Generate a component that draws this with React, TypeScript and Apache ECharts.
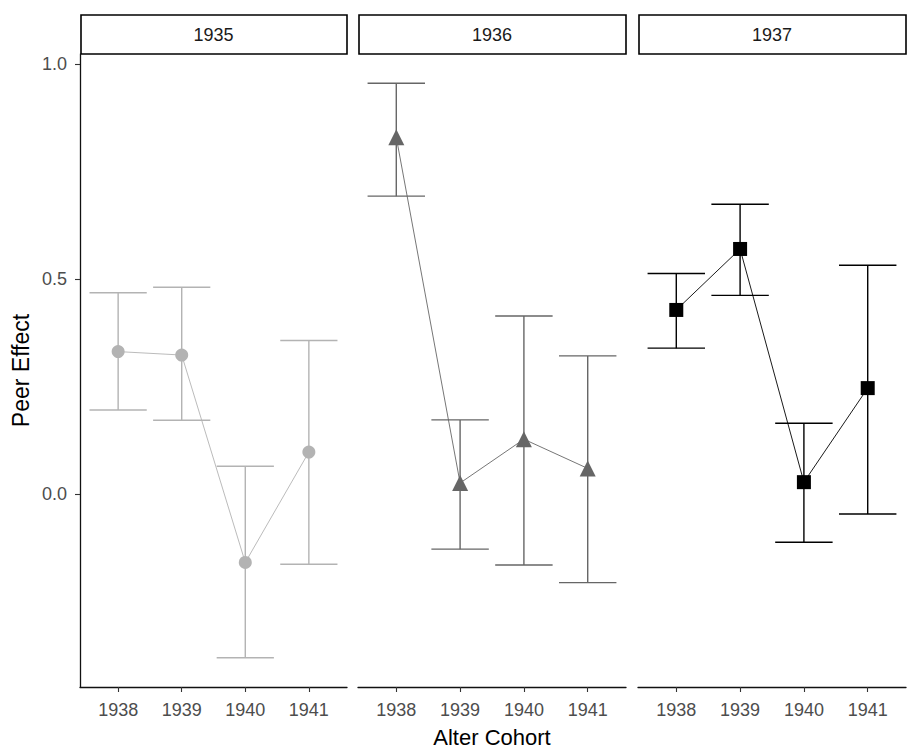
import React, { useEffect, useRef } from "react";
import * as echarts from "echarts";

// Facets (ego cohort) and x categories (alter cohort)
const egoCohorts = ["1935", "1936", "1937"];
const alterCohorts = ["1938", "1939", "1940", "1941"];

// Point estimates and confidence limits
const est1935 = [0.331, 0.323, -0.16, 0.097];
const low1935 = [0.195, 0.171, -0.382, -0.164];
const high1935 = [0.468, 0.481, 0.064, 0.357];

const est1936 = [0.83, 0.025, 0.127, 0.059];
const low1936 = [0.693, -0.129, -0.166, -0.207];
const high1936 = [0.956, 0.172, 0.414, 0.321];

const est1937 = [0.428, 0.57, 0.027, 0.246];
const low1937 = [0.339, 0.462, -0.113, -0.047];
const high1937 = [0.513, 0.674, 0.164, 0.532];

const yTicks = [0, 0.5, 1.0];
const yLimits = [-0.45, 1.024];
const xLimits = [0.4, 4.6];

const estimates = [est1935, est1936, est1937];
const lows = [low1935, low1936, low1937];
const highs = [high1935, high1936, high1937];

const colors = ["#b3b3b3", "#666666", "#000000"];
const symbols = ["circle", "triangle", "rect"];
const symbolSizes = [13, 16, 14];
const gridLefts = [80, 358, 638];
const gridWidths = [267, 268, 268];
const gridTop = 54;
const gridHeight = 633;

export default function App() {
  const ref = useRef<HTMLDivElement>(null);

  useEffect(() => {
    document.body.style.margin = "0";
    if (!ref.current) return;
    const chart = echarts.init(ref.current, null, { renderer: "svg" });
    const font = "Liberation Sans, Arial, sans-serif";
    const xIdx = alterCohorts.map((_, i) => i + 1);

    const grids = egoCohorts.map((_, i) => ({
      left: gridLefts[i],
      top: gridTop,
      width: gridWidths[i],
      height: gridHeight,
      containLabel: false,
      outerBoundsMode: "none",
    }));

    const xAxes = egoCohorts.map((_, i) => ({
      type: "value",
      gridIndex: i,
      min: xLimits[0],
      max: xLimits[1],
      name: i === 1 ? "Alter Cohort" : "",
      nameLocation: "middle",
      nameGap: 39,
      nameTextStyle: { fontFamily: font, fontSize: 22, color: "#000" },
      axisLine: { show: true, onZero: false, lineStyle: { color: "#111", width: 1.3 } },
      axisTick: { show: true, customValues: xIdx, length: 5, lineStyle: { color: "#333", width: 1.1 } },
      axisLabel: {
        show: true,
        customValues: xIdx,
        formatter: (v: number) => alterCohorts[Math.round(v) - 1] ?? "",
        color: "#4d4d4d",
        fontFamily: font,
        fontSize: 18,
        margin: 14,
      },
      splitLine: { show: false },
    }));

    const yAxes = egoCohorts.map((_, i) => ({
      type: "value",
      gridIndex: i,
      min: yLimits[0],
      max: yLimits[1],
      show: i === 0,
      name: i === 0 ? "Peer Effect" : "",
      nameLocation: "middle",
      nameGap: 48,
      nameRotate: 90,
      nameTextStyle: { fontFamily: font, fontSize: 23, color: "#000" },
      axisLine: { show: true, onZero: false, lineStyle: { color: "#111", width: 1.3 } },
      axisTick: { show: true, customValues: yTicks, length: 5, lineStyle: { color: "#333", width: 1.1 } },
      axisLabel: {
        show: true,
        customValues: yTicks,
        formatter: (v: number) => v.toFixed(1),
        color: "#4d4d4d",
        fontFamily: font,
        fontSize: 18,
        margin: 13,
      },
      splitLine: { show: false },
    }));

    const series: any[] = [];
    egoCohorts.forEach((_, i) => {
      const color = colors[i];
      series.push({
        type: "custom",
        xAxisIndex: i,
        yAxisIndex: i,
        z: 1,
        encode: { x: 0, y: [1, 2] },
        data: alterCohorts.map((_, j) => [j + 1, lows[i][j], highs[i][j]]),
        renderItem: (params: any, api: any) => {
          const x = api.value(0);
          const pLo = api.coord([x, api.value(1)]);
          const pHi = api.coord([x, api.value(2)]);
          const half = api.size([0.9, 0])[0] / 2;
          const style = { stroke: color, lineWidth: 1.4 };
          return {
            type: "group",
            children: [
              { type: "line", shape: { x1: pLo[0], y1: pLo[1], x2: pHi[0], y2: pHi[1] }, style },
              { type: "line", shape: { x1: pLo[0] - half, y1: pLo[1], x2: pLo[0] + half, y2: pLo[1] }, style },
              { type: "line", shape: { x1: pHi[0] - half, y1: pHi[1], x2: pHi[0] + half, y2: pHi[1] }, style },
            ],
          };
        },
      });
      series.push({
        type: "line",
        xAxisIndex: i,
        yAxisIndex: i,
        z: 3,
        data: alterCohorts.map((_, j) => [j + 1, estimates[i][j]]),
        symbol: symbols[i],
        symbolSize: symbolSizes[i],
        showSymbol: true,
        lineStyle: { color, width: 0.9 },
        itemStyle: { color, borderWidth: 0 },
      });
    });

    const graphics: any[] = [];
    egoCohorts.forEach((c, i) => {
      graphics.push({
        type: "rect",
        shape: { x: gridLefts[i] + 1, y: 15, width: gridWidths[i] - 1, height: 39 },
        style: { fill: "#ffffff", stroke: "#000", lineWidth: 1.6 },
      });
      graphics.push({
        type: "text",
        x: gridLefts[i] + gridWidths[i] / 2,
        y: 35,
        style: {
          text: c,
          fill: "#1a1a1a",
          fontFamily: font,
          fontSize: 18,
          align: "center",
          verticalAlign: "middle",
        },
      });
    });

    chart.setOption({
      animation: false,
      backgroundColor: "#ffffff",
      grid: grids,
      xAxis: xAxes,
      yAxis: yAxes,
      series,
      graphic: graphics,
    });
    return () => chart.dispose();
  }, []);

  return <div ref={ref} style={{ width: 909, height: 752 }} />;
}
